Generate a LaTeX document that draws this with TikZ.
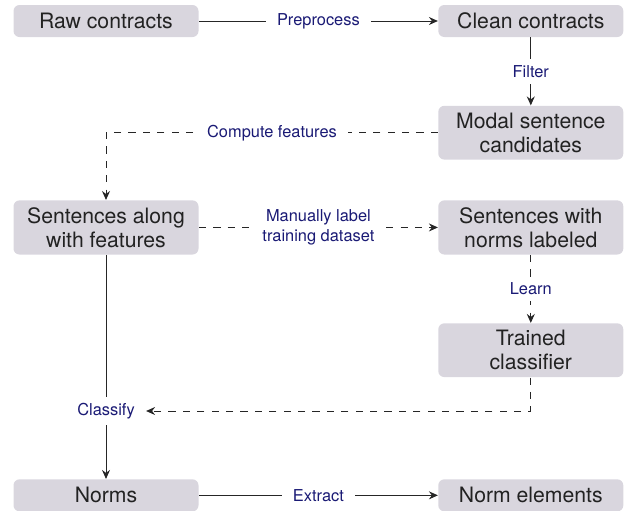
\documentclass[tikz,border=0pt]{standalone}
\usepackage{fontspec}
\setmainfont{TeX Gyre Heros}
\usepackage{tikz}
\usetikzlibrary{positioning,arrows.meta}
\definecolor{boxfill}{HTML}{D9D6DE}
\definecolor{boxtext}{HTML}{222222}
\definecolor{actblue}{HTML}{1A1A75}

\begin{document}
\begin{tikzpicture}[x=0.5pt,y=-0.5pt,
    stage/.style={fill=boxfill, text=boxtext, rounded corners=3pt,
      minimum width=92.5pt, minimum height=16pt, inner ysep=3.5pt,
      align=center, font=\fontsize{10.6}{12}\selectfont},
    act/.style={fill=white, text=actblue, inner xsep=5.5pt, inner ysep=3pt,
      align=center, font=\fontsize{8.2}{10}\selectfont},
    link/.style={draw=black!85, line width=0.5pt},
    flow/.style={link, -{Stealth[length=4.5pt,width=4pt,inset=1.5pt]}},
    manual/.style={flow, dash pattern=on 3.6pt off 3.6pt}]
  \useasboundingbox (0,0) rectangle (627,510);

  \node[stage] (raw) at (106,21) {Raw contracts};
  \node[stage, right=119.5pt of raw] (clean) {Clean contracts};
  \node[stage, below=34pt of clean] (modal) {Modal sentence\\candidates};
  \node[stage, below=20pt of modal] (labeled) {Sentences with\\norms labeled};
  \node[stage, left=119.5pt of labeled] (along) {Sentences along\\with features};
  \node[stage, below=34pt of labeled] (trained) {Trained\\classifier};
  \node[stage, below=112pt of along] (norms) {Norms};
  \node[stage, right=119.5pt of norms] (elements) {Norm elements};
  \node[act] (classify) at (106,411) {Classify};

  \draw[flow] (raw) -- node[act] {Preprocess} (clean);
  \draw[flow] (clean) -- node[act] {Filter} (modal);
  \draw[manual] (modal.west) -| node[act, pos=0.25] {Compute features} (along.north);
  \draw[manual] (along) -- node[act] {Manually label\\training dataset} (labeled);
  \draw[manual] (labeled) -- node[act] {Learn} (trained);
  \draw[link] (along) -- (classify);
  \draw[flow] (classify) -- (norms);
  \draw[manual] (trained.south) |- (classify.east);
  \draw[flow] (norms) -- node[act] {Extract} (elements);
\end{tikzpicture}
\end{document}
